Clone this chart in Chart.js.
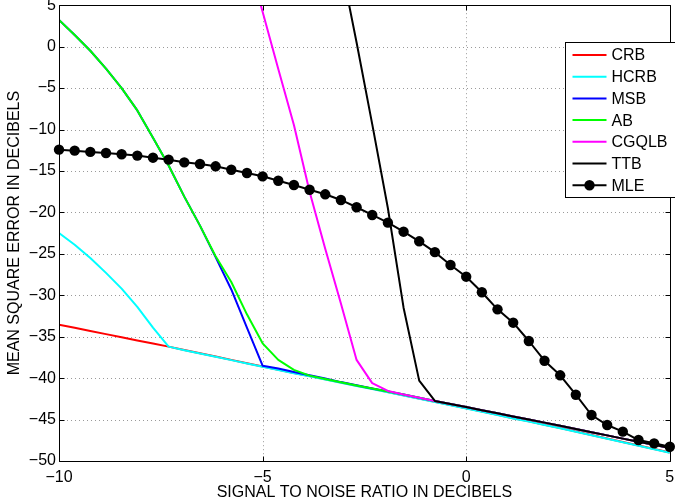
<!DOCTYPE html>
<html>
<head>
<meta charset="utf-8">
<script src="https://cdn.jsdelivr.net/npm/chart.js@4.4.1/dist/chart.umd.min.js"></script>
<style>
  html, body { margin: 0; padding: 0; background: #fff; }
  #wrap { width: 675px; height: 504px; }
</style>
</head>
<body>
<div id="wrap"><canvas id="mseChart" width="675" height="504"></canvas></div>
<script>
// SNR grid in dB (40 points)
const snr = [-10, -9.615, -9.231, -8.846, -8.462, -8.077, -7.692, -7.308, -6.923, -6.538,
  -6.154, -5.769, -5.385, -5, -4.615, -4.231, -3.846, -3.462, -3.077, -2.692,
  -2.308, -1.923, -1.538, -1.154, -0.769, -0.385, 0, 0.385, 0.769, 1.154,
  1.538, 1.923, 2.308, 2.692, 3.077, 3.462, 3.846, 4.231, 4.615, 5];

const crb = [-33.55, -33.93, -34.31, -34.69, -35.07, -35.45, -35.82, -36.2, -36.6, -37.0,
  -37.4, -37.8, -38.2, -38.6, -38.98, -39.37, -39.75, -40.14, -40.52, -40.91,
  -41.29, -41.68, -42.06, -42.45, -42.85, -43.24, -43.64, -44.04, -44.43, -44.83,
  -45.22, -45.62, -46.02, -46.44, -46.86, -47.29, -47.71, -48.13, -48.56, -48.98];

const hcrb = [-22.5, -23.9, -25.5, -27.3, -29.2, -31.4, -33.9, -36.2, -36.63, -37.03,
  -37.43, -37.83, -38.23, -38.63, -39.01, -39.4, -39.78, -40.17, -40.55, -40.94,
  -41.32, -41.71, -42.09, -42.48, -42.88, -43.27, -43.67, -44.07, -44.46, -44.86,
  -45.25, -45.65, -46.05, -46.47, -46.89, -47.32, -47.74, -48.16, -48.59, -49.01];

const msb = [3.23, 1.4, -0.5, -2.65, -5.0, -7.7, -11.0, -14.35, -18.1, -21.6,
  -25.4, -29.3, -33.9, -38.5, -38.85, -39.25, -39.65, -40.05, -40.48, -40.86,
  -41.24, -41.6, -41.98, -42.36, -42.75, -43.12, -43.49, -43.87, -44.24, -44.62,
  -44.99, -45.37, -45.74, -46.13, -46.52, -46.91, -47.3, -47.68, -48.05, -48.43];

const ab = [3.23, 1.4, -0.5, -2.65, -5.0, -7.7, -11.0, -14.35, -18.1, -21.6,
  -25.3, -28.4, -32.3, -35.8, -37.8, -39.0, -39.7, -40.1, -40.5, -40.88,
  -41.25, -41.62, -41.98, -42.36, -42.75, -43.12, -43.49, -43.87, -44.24, -44.62,
  -44.99, -45.37, -45.74, -46.13, -46.52, -46.91, -47.3, -47.68, -48.05, -48.43];

const cgqlb = [null, null, null, null, null, null, null, null, null, null,
  null, null, 11, 4.2, -2.7, -9.45, -17.5, -24.4, -31.0, -37.8,
  -40.6, -41.55, -41.98, -42.36, -42.75, -43.12, -43.49, -43.87, -44.24, -44.62,
  -44.99, -45.37, -45.74, -46.13, -46.52, -46.91, -47.3, -47.68, -48.05, -48.43];

const ttb = [null, null, null, null, null, null, null, null, null, null,
  null, null, null, null, null, null, null, null, 10, 0.5,
  -9.35, -19.5, -31.5, -40.3, -42.75, -43.12, -43.49, -43.87, -44.24, -44.62,
  -44.99, -45.37, -45.74, -46.13, -46.52, -46.91, -47.3, -47.68, -48.05, -48.43];

const mle = [-12.43, -12.55, -12.7, -12.83, -12.98, -13.15, -13.4, -13.64, -13.96, -14.16,
  -14.44, -14.85, -15.25, -15.65, -16.18, -16.7, -17.27, -17.82, -18.5, -19.38,
  -20.31, -21.24, -22.33, -23.49, -24.8, -26.35, -27.76, -29.64, -31.7, -33.31,
  -35.52, -37.9, -39.66, -42.0, -44.45, -45.66, -46.46, -47.47, -47.87, -48.28];

const xTicks = [-10, -5, 0, 5];
const yTicks = [5, 0, -5, -10, -15, -20, -25, -30, -35, -40, -45, -50];

function pts(vals) {
  return snr.map((x, i) => ({ x: x, y: vals[i] }));
}
function minus(v) {
  return String(v).replace('-', '\u2212');
}

// dotted grid, box with inward ticks, and MATLAB-like legend
const matlabAxes = {
  id: 'matlabAxes',
  beforeDatasetsDraw(chart) {
    const { ctx, chartArea: a, scales: { x, y } } = chart;
    ctx.save();
    ctx.strokeStyle = '#9a9a9a';
    ctx.lineWidth = 1;
    ctx.setLineDash([1, 3]);
    ctx.beginPath();
    xTicks.forEach(v => {
      const px = Math.round(x.getPixelForValue(v)) + 0.5;
      ctx.moveTo(px, a.top); ctx.lineTo(px, a.bottom);
    });
    yTicks.forEach(v => {
      const py = Math.round(y.getPixelForValue(v)) + 0.5;
      ctx.moveTo(a.left, py); ctx.lineTo(a.right, py);
    });
    ctx.stroke();
    ctx.restore();
  },
  afterDatasetsDraw(chart) {
    const { ctx, chartArea: a, scales: { x, y } } = chart;
    const L = Math.round(a.left) + 0.5, R = Math.round(a.right) + 0.5;
    const T = Math.round(a.top) + 0.5, B = Math.round(a.bottom) + 0.5;
    ctx.save();
    ctx.strokeStyle = '#000';
    ctx.lineWidth = 1;
    ctx.beginPath();
    ctx.rect(L, T, R - L, B - T);
    xTicks.forEach(v => {
      const px = Math.round(x.getPixelForValue(v)) + 0.5;
      ctx.moveTo(px, B); ctx.lineTo(px, B - 5);
      ctx.moveTo(px, T); ctx.lineTo(px, T + 5);
    });
    yTicks.forEach(v => {
      const py = Math.round(y.getPixelForValue(v)) + 0.5;
      ctx.moveTo(L, py); ctx.lineTo(L + 5, py);
      ctx.moveTo(R, py); ctx.lineTo(R - 5, py);
    });
    ctx.stroke();
    ctx.restore();
  },
  afterDraw(chart) {
    const { ctx, chartArea: a } = chart;
    const sets = chart.data.datasets;
    const left = Math.round(a.right - 105) + 0.5;
    const top = Math.round(a.top + 37) + 0.5;
    const rowH = 21.7;
    ctx.save();
    ctx.fillStyle = '#fff';
    ctx.strokeStyle = '#000';
    ctx.lineWidth = 1;
    ctx.fillRect(left, top, 112, 155);
    ctx.strokeRect(left, top, 112, 155);
    ctx.font = "16px 'Liberation Sans', Arial, sans-serif";
    ctx.textBaseline = 'middle';
    sets.forEach((ds, i) => {
      const cy = top + 12.5 + i * rowH;
      ctx.strokeStyle = ds.borderColor;
      ctx.lineWidth = ds.borderWidth;
      ctx.beginPath();
      ctx.moveTo(left + 7, cy); ctx.lineTo(left + 41, cy);
      ctx.stroke();
      if (ds.pointRadius > 0) {
        ctx.fillStyle = ds.pointBackgroundColor;
        ctx.beginPath();
        ctx.arc(left + 24, cy, ds.pointRadius, 0, Math.PI * 2);
        ctx.fill();
      }
      ctx.fillStyle = '#000';
      ctx.fillText(ds.label, left + 46, cy + 1);
    });
    ctx.restore();
  }
};

function series(label, vals, color, order) {
  return {
    label: label,
    data: pts(vals),
    borderColor: color,
    backgroundColor: color,
    borderWidth: 2,
    pointRadius: 0,
    borderJoinStyle: 'round',
    tension: 0,
    fill: false,
    order: order
  };
}

const datasets = [
  series('CRB', crb, '#ff0000', 7),
  series('HCRB', hcrb, '#00ffff', 6),
  series('MSB', msb, '#0000ff', 5),
  series('AB', ab, '#00ff00', 4),
  series('CGQLB', cgqlb, '#ff00ff', 3),
  series('TTB', ttb, '#000000', 2),
  Object.assign(series('MLE', mle, '#000000', 1), {
    pointRadius: 5.2,
    pointBackgroundColor: '#000',
    pointBorderColor: '#000',
    pointBorderWidth: 0,
    clip: false
  })
];

Chart.defaults.font.family = "'Liberation Sans', Arial, sans-serif";
Chart.defaults.font.size = 16;
Chart.defaults.color = '#000';

new Chart(document.getElementById('mseChart'), {
  type: 'line',
  data: { datasets: datasets },
  plugins: [matlabAxes],
  options: {
    responsive: false,
    animation: false,
    layout: { padding: { top: 5, right: 3, left: 0, bottom: 0 } },
    plugins: { legend: { display: false }, tooltip: { enabled: false } },
    scales: {
      x: {
        type: 'linear',
        min: -10,
        max: 5,
        grid: { display: false, drawTicks: false },
        border: { display: false },
        afterBuildTicks: s => { s.ticks = xTicks.map(v => ({ value: v })); },
        afterFit: s => { s.height = 43; s.paddingLeft = 0; s.paddingRight = 0; },
        ticks: { padding: 7, maxRotation: 0, autoSkip: false, callback: v => minus(v) },
        title: {
          display: true,
          text: 'SIGNAL TO NOISE RATIO IN DECIBELS',
          padding: { top: 0, bottom: 2 }
        }
      },
      y: {
        min: -50,
        max: 5,
        grid: { display: false, drawTicks: false },
        border: { display: false },
        afterBuildTicks: s => { s.ticks = yTicks.map(v => ({ value: v })); },
        afterFit: s => { s.width = 59; s.paddingTop = 0; s.paddingBottom = 0; },
        ticks: { padding: 3, autoSkip: false, callback: v => minus(v) },
        title: {
          display: true,
          text: 'MEAN SQUARE ERROR IN DECIBELS',
          padding: { top: 5, bottom: 0 }
        }
      }
    }
  }
});
</script>
</body>
</html>
